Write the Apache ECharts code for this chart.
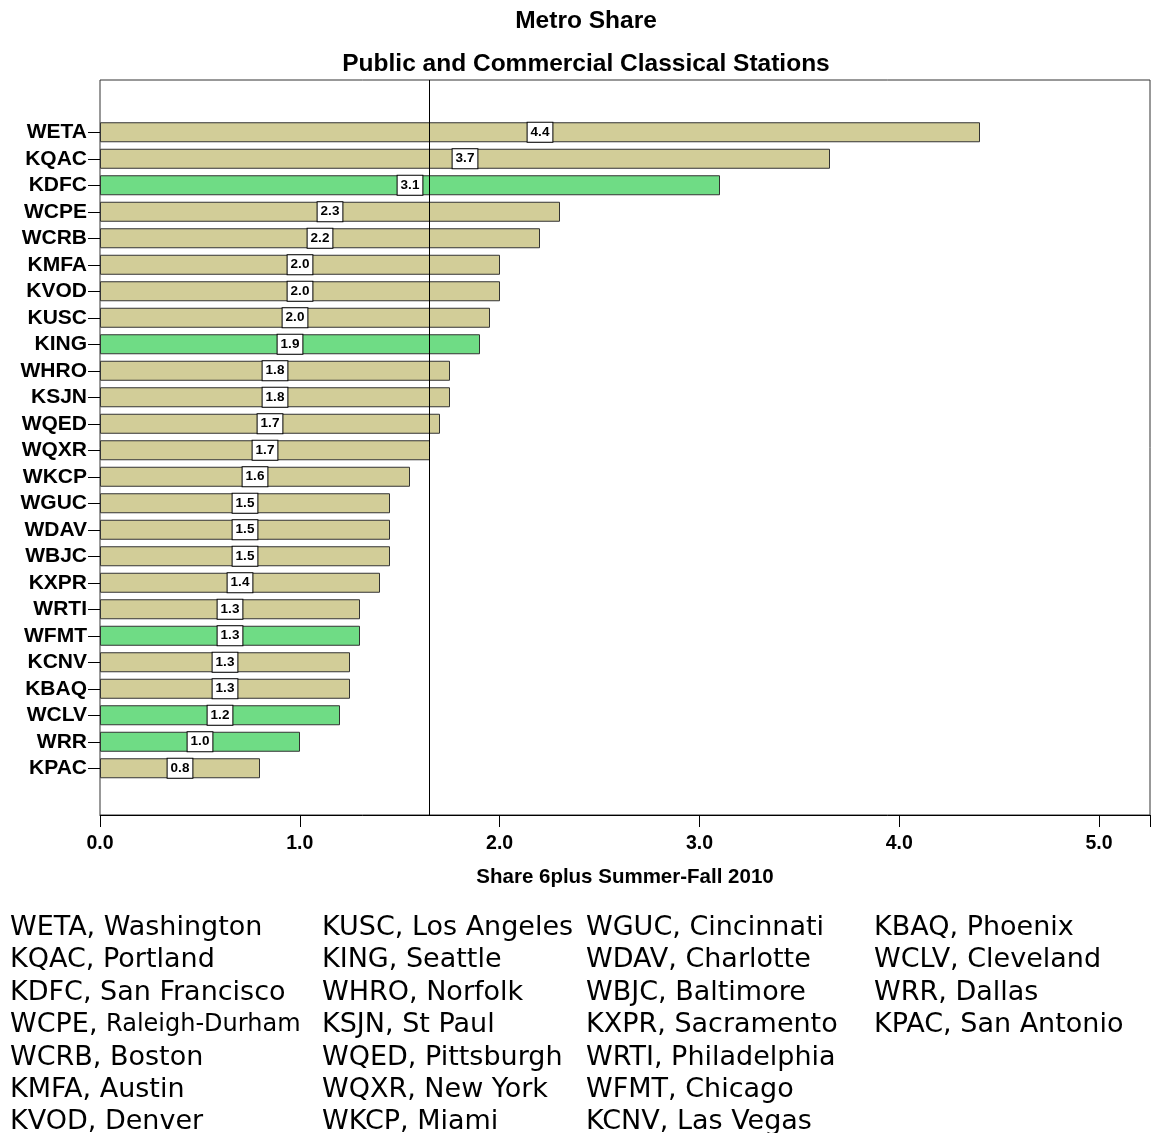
<!DOCTYPE html>
<html><head><meta charset="utf-8">
<script src="https://cdn.jsdelivr.net/npm/echarts@6/dist/echarts.min.js"></script>
<style>html,body{margin:0;padding:0;background:#fff}#c{width:1153px;height:1133px}</style>
</head><body><div id="c"></div>
<script>
// ---- data ----
const stations = ['WETA','KQAC','KDFC','WCPE','WCRB','KMFA','KVOD','KUSC','KING','WHRO','KSJN','WQED','WQXR','WKCP','WGUC','WDAV','WBJC','KXPR','WRTI','WFMT','KCNV','KBAQ','WCLV','WRR','KPAC'];
const shares = [4.4,3.65,3.1,2.3,2.2,2.0,2.0,1.95,1.9,1.75,1.75,1.7,1.65,1.55,1.45,1.45,1.45,1.4,1.3,1.3,1.25,1.25,1.2,1.0,0.8];
const shareLabels = ['4.4','3.7','3.1','2.3','2.2','2.0','2.0','2.0','1.9','1.8','1.8','1.7','1.7','1.6','1.5','1.5','1.5','1.4','1.3','1.3','1.3','1.3','1.2','1.0','0.8'];
const stationType = ['public','public','commercial','public','public','public','public','public','commercial','public','public','public','public','public','public','public','public','public','public','commercial','public','public','commercial','commercial','public'];
const cities = ['Washington','Portland','San Francisco','Raleigh-Durham','Boston','Austin','Denver','Los Angeles','Seattle','Norfolk','St Paul','Pittsburgh','New York','Miami','Cincinnati','Charlotte','Baltimore','Sacramento','Philadelphia','Chicago','Las Vegas','Phoenix','Cleveland','Dallas','San Antonio'];
const xTickValues = [0,1,2,3,4,5];
const titleText = 'Metro Share';
const subtitleText = 'Public and Commercial Classical Stations';
const xAxisName = 'Share 6plus Summer-Fall 2010';

// ---- styling ----
const typeColor = {public:'#d2cd98', commercial:'#6fdc85'};
const X_MIN = 0, X_MAX = 5.255;
const median = (() => { const s = shares.slice().sort((a,b)=>a-b); return s[Math.floor(s.length/2)]; })();
const SANS = '"Liberation Sans", Arial, sans-serif';

const graphics = [
  {type:'text', x:586, y:21, style:{text:titleText, textAlign:'center', textVerticalAlign:'middle', font:'bold 24.5px ' + SANS, fill:'#000'}},
  {type:'text', x:586, y:64, style:{text:subtitleText, textAlign:'center', textVerticalAlign:'middle', font:'bold 24.5px ' + SANS, fill:'#000'}}
];
const colX = [10,322,586,874];
stations.forEach((s,i)=>{
  const col = Math.floor(i/7), row = i%7;
  const city = cities[i];
  const small = city.length > 13;
  graphics.push({type:'text', x:colX[col], y:928 + row*32.4, style:{
    text:'{a|' + s + ', }{' + (small?'s':'a') + '|' + city + '}',
    textVerticalAlign:'middle', textAlign:'left',
    rich:{a:{font:'27px "DejaVu Sans", Verdana, sans-serif', fill:'#000'}, s:{font:'24px "DejaVu Sans", Verdana, sans-serif', fill:'#000'}}
  }});
});

const chart = echarts.init(document.getElementById('c'), null, {renderer:'canvas'});
chart.setOption({
  animation:false,
  backgroundColor:'#fff',
  graphic: graphics,
  grid:[
    {left:100, top:80, width:1051, height:735, show:true, borderColor:'#333', borderWidth:1, backgroundColor:'transparent'},
    {left:100, top:119, width:1051, height:662.5, show:false}
  ],
  xAxis:[
    {gridIndex:0, type:'value', min:X_MIN, max:X_MAX, interval:1,
     axisLine:{show:true, lineStyle:{color:'#000', width:1}},
     axisTick:{show:true, length:12, lineStyle:{color:'#000'}},
     axisLabel:{margin:19, fontSize:19.5, fontWeight:'bold', color:'#000', fontFamily:SANS,
       formatter:(v)=> xTickValues.includes(v) ? v.toFixed(1) : ''},
     splitLine:{show:false},
     name:xAxisName, nameLocation:'middle', nameGap:52,
     nameTextStyle:{fontSize:20.5, fontWeight:'bold', color:'#000', fontFamily:SANS}},
    {gridIndex:1, type:'value', min:X_MIN, max:X_MAX, show:false}
  ],
  yAxis:[
    {gridIndex:0, type:'value', min:0, max:1, show:false},
    {gridIndex:1, type:'category', data:stations, inverse:true,
     axisLine:{show:false},
     axisTick:{show:true, alignWithLabel:true, interval:0, length:12, lineStyle:{color:'#000'}},
     axisLabel:{interval:0, margin:13, fontSize:21, fontWeight:'bold', color:'#000', fontFamily:SANS}}
  ],
  series:[
    {type:'bar', xAxisIndex:1, yAxisIndex:1, barWidth:20,
     data: shares.map((v,i)=>({value:v, itemStyle:{color:typeColor[stationType[i]]}})),
     itemStyle:{borderColor:'#333', borderWidth:1},
     label:{show:true, position:'inside', formatter:(p)=>shareLabels[p.dataIndex],
       backgroundColor:'#fff', borderColor:'#000', borderWidth:1, padding:[3,3,2,3],
       fontSize:13.5, fontWeight:'bold', color:'#000', fontFamily:SANS}},
    {type:'line', xAxisIndex:0, yAxisIndex:0, data:[], z:10,
     markLine:{silent:true, symbol:['none','none'], label:{show:false},
       lineStyle:{color:'#000', width:1, type:'solid'},
       data:[{xAxis:median}]}}
  ]
});
</script></body></html>
